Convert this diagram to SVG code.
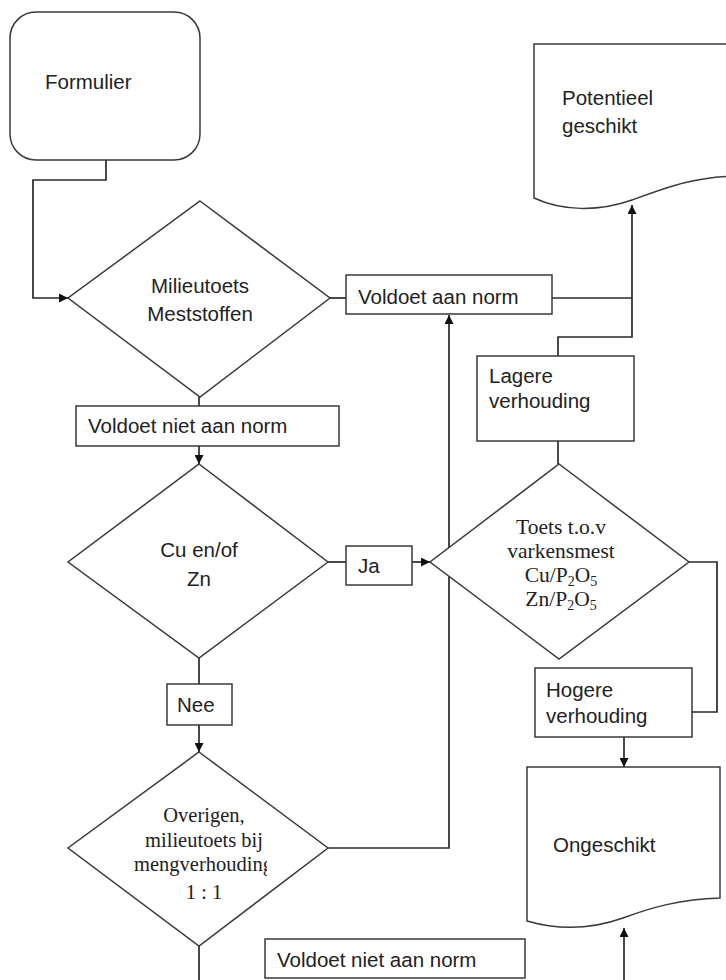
<svg xmlns="http://www.w3.org/2000/svg" width="726" height="980" viewBox="0 0 726 980">
<style>
.shape{fill:#fff;stroke:#3a3a3a;stroke-width:1.5}
.conn{fill:none;stroke:#2a2a2a;stroke-width:1.7}
.t{font-family:"Liberation Sans",Arial,sans-serif;font-size:20.5px;fill:#222}
.s{font-family:"Liberation Serif","Times New Roman",serif;font-size:20.5px;fill:#222}
.s2{font-family:"Liberation Serif","Times New Roman",serif;font-size:21.5px;fill:#222}
.c{text-anchor:middle}
</style>
<defs>
<marker id="arr" viewBox="0 0 10 10" refX="10" refY="5" markerWidth="9" markerHeight="9" markerUnits="userSpaceOnUse" orient="auto">
<path d="M0,0 L10,5 L0,10 z" fill="#111"/>
</marker>
<clipPath id="clipM"><rect x="100" y="840" width="167" height="40"/></clipPath>
</defs>
<g id="connectors">
<path class="conn" d="M106,160 V180 H33 V298 H68" marker-end="url(#arr)"/>
<path class="conn" d="M329,298 H346"/>
<path class="conn" d="M552,298 H632"/>
<path class="conn" d="M558,356 V337 H632 V205" marker-end="url(#arr)"/>
<path class="conn" d="M558,464 V441"/>
<path class="conn" d="M199,397 V406"/>
<path class="conn" d="M199,446 V464" marker-end="url(#arr)"/>
<path class="conn" d="M328,562 H346"/>
<path class="conn" d="M412,562 H430" marker-end="url(#arr)"/>
<path class="conn" d="M199,658 V684"/>
<path class="conn" d="M199,725 V752" marker-end="url(#arr)"/>
<path class="conn" d="M328,848 H449 V315" marker-end="url(#arr)"/>
<path class="conn" d="M199,946 V980"/>
<path class="conn" d="M689,562 H717 V712 H692"/>
<path class="conn" d="M624,737 V767" marker-end="url(#arr)"/>
<path class="conn" d="M624,980 V928" marker-end="url(#arr)"/>
</g>
<g id="formulier">
<rect class="shape" x="10" y="12" width="190" height="148" rx="26" ry="26"/>
<text class="t" x="45" y="89">Formulier</text>
</g>
<g id="milieutoets">
<polygon class="shape" points="200,201 330,298 200,397 68,298"/>
<text class="t c" x="200" y="293">Milieutoets</text>
<text class="t c" x="200" y="321">Meststoffen</text>
</g>
<g id="voldoet">
<rect class="shape" x="346" y="275" width="206" height="39"/>
<text class="t" x="358" y="304">Voldoet aan norm</text>
</g>
<g id="potentieel">
<path class="shape" d="M740,44 H534 V198 C562,211 598,212 632,200 C665,188 695,176 740,176"/>
<text class="t" x="562" y="105">Potentieel</text>
<text class="t" x="562" y="133">geschikt</text>
</g>
<g id="voldoetniet1">
<rect class="shape" x="76" y="406" width="263" height="40"/>
<text class="t" x="88" y="433">Voldoet niet aan norm</text>
</g>
<g id="lagere">
<rect class="shape" x="477" y="356" width="157" height="85"/>
<text class="t" x="489" y="383">Lagere</text>
<text class="t" x="489" y="408">verhouding</text>
</g>
<g id="cuzn">
<polygon class="shape" points="199,464 328,562 199,658 68,562"/>
<text class="t c" x="199" y="557">Cu en/of</text>
<text class="t c" x="199" y="586">Zn</text>
</g>
<g id="ja">
<rect class="shape" x="346" y="546" width="66" height="39"/>
<text class="t" x="358" y="573">Ja</text>
</g>
<g id="toets">
<polygon class="shape" points="559,464 689,562 559,659 430,562"/>
<text class="s2 c" x="561" y="534">Toets t.o.v</text>
<text class="s2 c" x="561" y="558">varkensmest</text>
<text class="s2 c" x="561" y="582">Cu/P<tspan font-size="14" dy="4">2</tspan><tspan dy="-4">O</tspan><tspan font-size="14" dy="4">5</tspan></text>
<text class="s2 c" x="561" y="606">Zn/P<tspan font-size="14" dy="4">2</tspan><tspan dy="-4">O</tspan><tspan font-size="14" dy="4">5</tspan></text>
</g>
<g id="nee">
<rect class="shape" x="167" y="684" width="65" height="41"/>
<text class="t" x="177" y="712">Nee</text>
</g>
<g id="hogere">
<rect class="shape" x="535" y="668" width="157" height="69"/>
<text class="t" x="546" y="697">Hogere</text>
<text class="t" x="546" y="723">verhouding</text>
</g>
<g id="overigen">
<polygon class="shape" points="199,752 328,848 199,946 68,848"/>
<text class="s c" x="204" y="822">Overigen,</text>
<text class="s c" x="204" y="847">milieutoets bij</text>
<text class="s" x="134" y="871" clip-path="url(#clipM)">mengverhouding</text>
<text class="s c" x="204" y="899">1 : 1</text>
</g>
<g id="ongeschikt">
<path class="shape" d="M527,767 H720 V898 C680,899 650,908 623,918 C592,929 558,930 527,921 Z"/>
<text class="t" x="553" y="852">Ongeschikt</text>
</g>
<g id="voldoetniet2">
<rect class="shape" x="265" y="939" width="260" height="39"/>
<text class="t" x="277" y="967">Voldoet niet aan norm</text>
</g>
</svg>
